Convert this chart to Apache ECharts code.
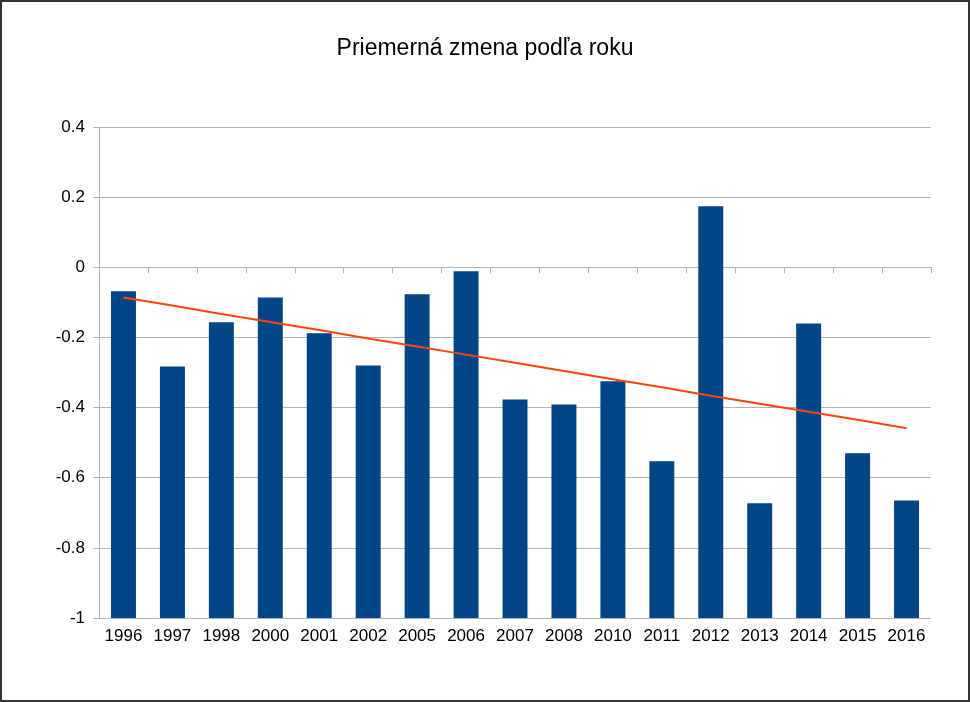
<!DOCTYPE html>
<html><head><meta charset="utf-8">
<script src="https://cdn.jsdelivr.net/npm/echarts@6/dist/echarts.min.js"></script>
<style>html,body{margin:0;padding:0;background:#fff}#c{width:970px;height:702px;box-sizing:border-box;border:2px solid #333}</style>
</head><body><div id="c"></div>
<script>
const categories=['1996','1997','1998','2000','2001','2002','2005','2006','2007','2008','2010','2011','2012','2013','2014','2015','2016'];
const values=[-0.068,-0.283,-0.157,-0.086,-0.188,-0.280,-0.077,-0.011,-0.377,-0.391,-0.325,-0.553,0.174,-0.673,-0.160,-0.530,-0.665];
const trend=[-0.086,-0.109,-0.133,-0.156,-0.179,-0.203,-0.226,-0.249,-0.272,-0.296,-0.319,-0.342,-0.366,-0.389,-0.412,-0.435,-0.459];
const yTicks=[-1,-0.8,-0.6,-0.4,-0.2,0,0.2,0.4];
const base=-1;
const chart=echarts.init(document.getElementById('c'));
chart.setOption({
 animation:false,
 title:{text:'Priemerná zmena podľa roku',left:'center',top:30,textStyle:{fontFamily:'Liberation Sans',fontWeight:'normal',fontSize:23,color:'#000'}},
 grid:{left:97,right:37,top:125,bottom:82},
 xAxis:{type:'category',data:categories,axisLine:{lineStyle:{color:'#b3b3b3'}},axisTick:{show:true,length:6,lineStyle:{color:'#b3b3b3'}},axisLabel:{color:'#000',fontFamily:'Liberation Sans',fontSize:17,margin:10,interval:0}},
 yAxis:{type:'value',min:yTicks[0],max:yTicks[yTicks.length-1],interval:0.2,axisLine:{show:true,lineStyle:{color:'#b3b3b3'}},axisTick:{show:true,length:6,lineStyle:{color:'#b3b3b3'}},splitLine:{lineStyle:{color:'#b3b3b3'}},axisLabel:{color:'#000',fontFamily:'Liberation Sans',fontSize:17,margin:14,formatter:v=>String(Math.round(v*10)/10)}},
 series:[
  {type:'bar',stack:'s',stackStrategy:'all',data:values.map(()=>base),itemStyle:{color:'transparent'},barWidth:'51%',silent:true},
  {type:'bar',stack:'s',stackStrategy:'all',data:values.map(v=>v-base),itemStyle:{color:'#004586'},barWidth:'51%'},
  {type:'line',data:trend,symbol:'none',lineStyle:{color:'#ff420e',width:2}}
 ]
});
</script></body></html>
